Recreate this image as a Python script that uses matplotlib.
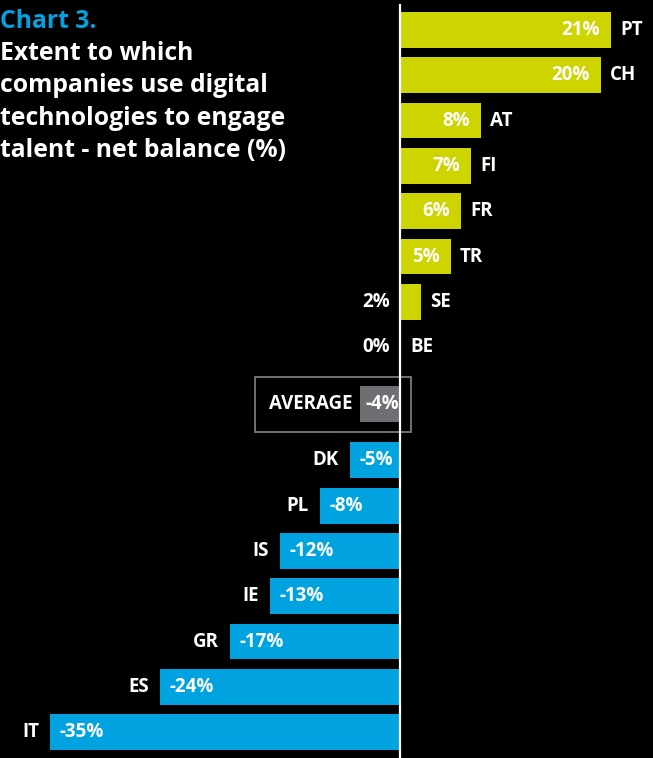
import numpy as np
import matplotlib.pyplot as plt

plt.rcParams['font.family'] = ['Open Sans', 'DejaVu Sans']

countries = ["PT", "CH", "AT", "FI", "FR", "TR", "SE", "BE",
             "DK", "PL", "IS", "IE", "GR", "ES", "IT"]
values = [21, 20, 8, 7, 6, 5, 2, 0, -5, -8, -12, -13, -17, -24, -35]
average = -4

green = "#CDD400"
blue = "#00A3E0"
grey = "#6E6E73"

# row positions: top block, gap for the average, bottom block
rows = list(range(8)) + [9.5 + i for i in range(7)]
avg_row = 8.26
bar_h = 0.79

fig = plt.figure(figsize=(6.53, 7.58), dpi=100, facecolor="black")
ax = fig.add_axes([0, 0, 1, 1])
ax.set_facecolor("black")
ax.set_xlim(-40, 25.3)
ax.set_ylim(16.07, -0.662)
ax.axis("off")

lbl = dict(color="white", fontsize=13.5, fontweight="bold", va="center")

for c, v, y in zip(countries, values, rows):
    col = green if v >= 0 else blue
    if v != 0:
        ax.barh(y, v, left=0.1 if v > 0 else 0, height=bar_h, color=col, zorder=2)
    if v >= 5:
        ax.text(v - 1.0, y, f"{v}%", ha="right", **lbl, zorder=3)
        ax.text(v + 1.0, y, c, ha="left", **lbl)
    elif v >= 0:
        ax.text(-1.0, y, f"{v}%", ha="right", **lbl)
        ax.text(v + 1.0, y, c, ha="left", **lbl)
    else:
        ax.text(v + 1.0, y, f"{v}%", ha="left", **lbl, zorder=3)
        ax.text(v - 1.1, y, c, ha="right", **lbl)

# average
ax.barh(avg_row, average, height=bar_h, color=grey, zorder=2)
ax.text(-0.1, avg_row, f"{average}%", ha="right", **lbl, zorder=3)
ax.text(average - 0.75, avg_row, "AVERAGE", ha="right", **lbl)
ax.add_patch(plt.Rectangle((-14.5, avg_row - 0.6), 15.6, 1.21, fill=False,
                           edgecolor="#7a7a7a", linewidth=1.3, zorder=1))

ax.plot([0, 0], [-0.55, 16.07], color="white", linewidth=1.6, zorder=4)

fig.text(0.0, 0.972, "Chart 3.", color=blue, fontsize=17.8, fontweight="bold",
         va="center", ha="left")
title = ["Extent to which", "companies use digital",
         "technologies to engage", "talent - net balance (%)"]
for i, t in enumerate(title):
    fig.text(0.0, 0.930 - i * 0.0429, t, color="white", fontsize=17.8,
             fontweight="bold", va="center", ha="left")

fig.savefig("out.png", dpi=100, facecolor="black")
